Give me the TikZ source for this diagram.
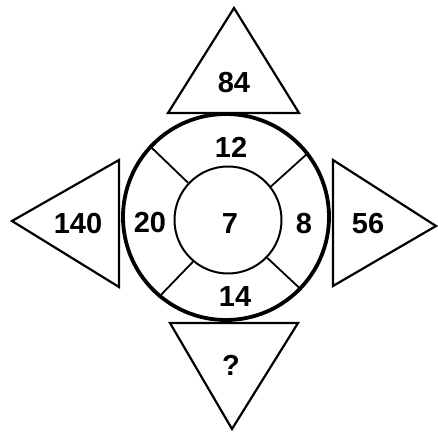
\documentclass[tikz,border=0pt]{standalone}
\usepackage{fontspec}
\setmainfont{Liberation Sans}
\usetikzlibrary{positioning}

\begin{document}
\begin{tikzpicture}[
  x=1pt, y=1pt,
  num/.style={font=\fontsize{29}{32}\selectfont\bfseries, inner sep=0pt},
  tri/.style={draw, line width=2.2pt, line join=miter},
  ring/.style={draw, circle, inner sep=0pt},
  spoke/.style={draw, line width=1.8pt},
]
\useasboundingbox (0,0) rectangle (438,433);
% ---- centre: ring with inner circle ----
\node[ring, minimum size=206pt, line width=3.8pt] (outer) at (226,216) {};
\node[ring, minimum size=107pt, line width=2pt] (inner) at (228,213) {};
\draw[spoke] (inner.137) -- (outer.137);
\draw[spoke] (inner.38) -- (outer.38);
\draw[spoke] (inner.230) -- (outer.230);
\draw[spoke] (inner.-44) -- (outer.-44);
\node[num] (n12) at (231,286) {12};
\node[num] (n20) at (150,210) {20};
\node[num] (n7)  at (230,209) {7};
\node[num] (n8)  at (304,209) {8};
\node[num] (n14) at (235,136) {14};

% ---- triangles round the ring ----
\draw[tri] (168,320) -- (234,425) -- (299,320) -- cycle;
\node[num] (top) at (234,350) {84};
\draw[tri] (119,273) -- (12,212) -- (119,146) -- cycle;
\node[num] (left) at (78,209) {140};
\draw[tri] (333,273) -- (436,207) -- (333,147) -- cycle;
\node[num] (right) at (368,209) {56};
\draw[tri] (170,110) -- (232,4) -- (298,110) -- cycle;
\node[num] (bottom) at (231,68) {?};
\end{tikzpicture}
\end{document}
